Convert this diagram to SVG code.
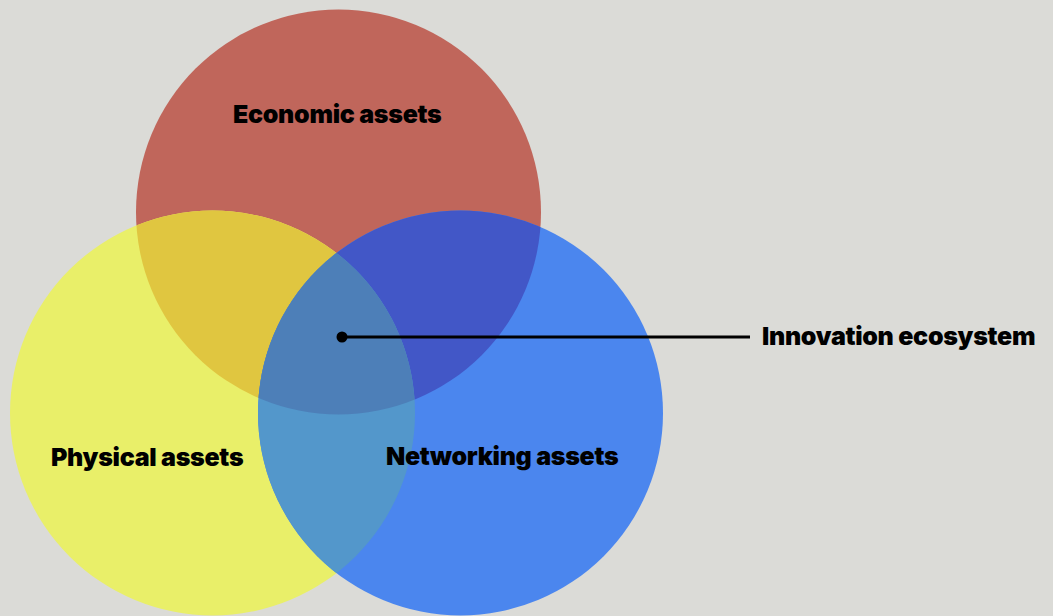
<svg xmlns="http://www.w3.org/2000/svg" width="1053" height="616" viewBox="0 0 1053 616">
<style>
.lbl{font-family:Inter,"Liberation Sans",sans-serif;font-weight:900;font-size:25px;fill:#000;letter-spacing:-0.3px}
</style>
<defs>
<clipPath id="cR"><circle cx="338.5" cy="212" r="202.5"/></clipPath>
<clipPath id="cY"><circle cx="212.5" cy="413" r="202.5"/></clipPath>
</defs>
<rect width="1053" height="616" fill="#DBDBD7"/>
<g id="economic">
<circle cx="338.5" cy="212" r="202.5" fill="#C0665B"/>
</g>
<g id="physical">
<circle cx="212.5" cy="413" r="202.5" fill="#E9EF69"/>
</g>
<g id="networking">
<circle cx="460.5" cy="413" r="202.5" fill="#4B86EE"/>
</g>
<g id="overlaps">
<circle cx="212.5" cy="413" r="202.5" fill="#E0C640" clip-path="url(#cR)"/>
<circle cx="460.5" cy="413" r="202.5" fill="#4257C7" clip-path="url(#cR)"/>
<circle cx="460.5" cy="413" r="202.5" fill="#5397CB" clip-path="url(#cY)"/>
<g clip-path="url(#cR)"><circle cx="460.5" cy="413" r="202.5" fill="#4D7FB8" clip-path="url(#cY)"/></g>
</g>
<g id="connectors">
<line x1="342" y1="337" x2="750" y2="337" stroke="#000" stroke-width="3"/>
<circle cx="342" cy="337" r="5.5" fill="#000"/>
</g>
<text class="lbl" x="233" y="123">Economic assets</text>
<text class="lbl" x="51" y="466">Physical assets</text>
<text class="lbl" x="386" y="465">Networking assets</text>
<g id="innovation"><text class="lbl" x="762" y="345">Innovation ecosystem</text></g>
</svg>
